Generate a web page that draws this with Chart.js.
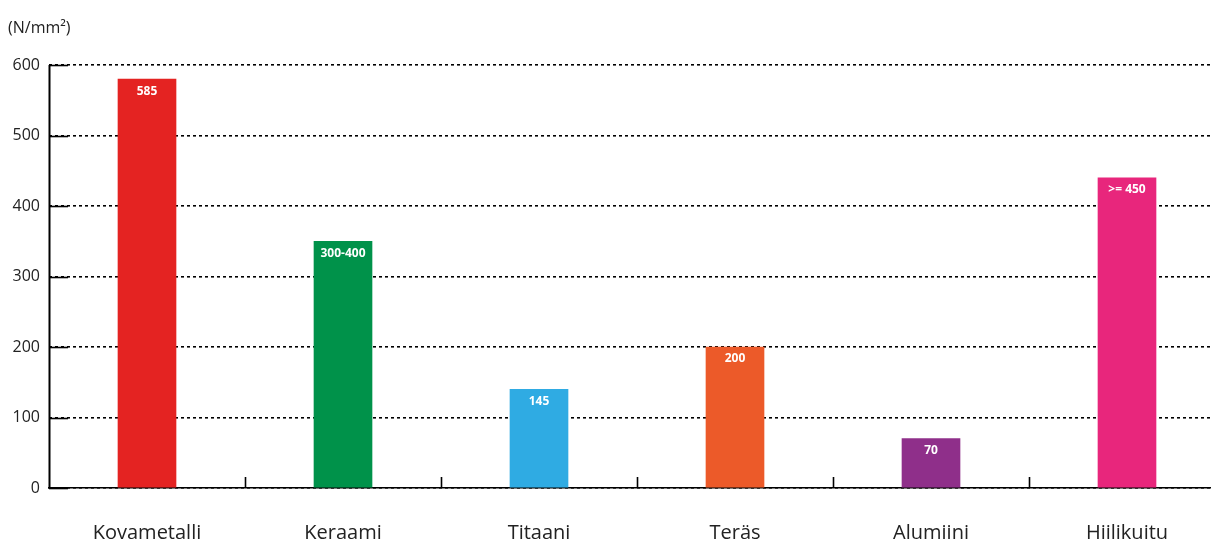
<!DOCTYPE html>
<html>
<head>
<meta charset="utf-8">
<script src="https://cdn.jsdelivr.net/npm/chart.js@4/dist/chart.umd.min.js"></script>
<style>
  html, body { margin: 0; padding: 0; background: #fff; overflow: hidden; }
  #wrap { width: 1225px; height: 542px; }
</style>
</head>
<body>
<div id="wrap"><canvas id="myChart" width="1225" height="542"></canvas></div>
<script>
// data
const materials = ["Kovametalli", "Keraami", "Titaani", "Teräs", "Alumiini", "Hiilikuitu"];
const strength = [580, 350, 140, 200, 70, 440];
const valueLabels = ["585", "300-400", "145", "200", "70", ">= 450"];
const barColours = ["#E42322", "#00924A", "#2FABE3", "#EC5A29", "#8F2F8A", "#E8267C"];
const yTicks = [0, 100, 200, 300, 400, 500, 600];
const unitLabel = "(N/mm\u00B2)";

// solid vertical axis line, drawn on its own
const yAxisLine = {
  id: "yAxisLine",
  afterDraw(chart) {
    const ctx = chart.ctx;
    const y = chart.scales.y;
    const ax = Math.round(y.right) + 0.5;
    ctx.save();
    ctx.setLineDash([]);
    ctx.strokeStyle = "#000";
    ctx.lineWidth = 2;
    ctx.beginPath();
    ctx.moveTo(ax, y.top);
    ctx.lineTo(ax, y.bottom + 1);
    ctx.stroke();
    ctx.restore();
  }
};

// unit label, value labels, inner solid ticks and category dividers
const extras = {
  id: "extras",
  afterDraw(chart) {
    const ctx = chart.ctx;
    const area = chart.chartArea;
    const x = chart.scales.x, y = chart.scales.y;
    ctx.save();
    ctx.setLineDash([]);

    ctx.fillStyle = "#222";
    ctx.font = "16px 'Open Sans'";
    ctx.textAlign = "left";
    ctx.textBaseline = "middle";
    ctx.fillText(unitLabel, 8, 28);

    ctx.strokeStyle = "#000";
    ctx.lineWidth = 1.6;
    yTicks.forEach(v => {
      const py = Math.round(y.getPixelForValue(v)) + 0.5;
      ctx.beginPath();
      ctx.moveTo(area.left, py);
      ctx.lineTo(area.left + 19, py);
      ctx.stroke();
    });

    for (let i = 1; i < materials.length; i++) {
      const px = Math.round((x.getPixelForValue(i - 1) + x.getPixelForValue(i)) / 2) + 0.5;
      ctx.beginPath();
      ctx.moveTo(px, area.bottom);
      ctx.lineTo(px, area.bottom - 11);
      ctx.stroke();
    }

    const meta = chart.getDatasetMeta(0);
    ctx.fillStyle = "#fff";
    ctx.font = "bold 12px 'Open Sans'";
    ctx.textAlign = "center";
    ctx.textBaseline = "middle";
    meta.data.forEach((bar, i) => {
      ctx.fillText(valueLabels[i], bar.x, bar.y + 12);
    });

    ctx.restore();
  }
};

new Chart(document.getElementById("myChart").getContext("2d"), {
  type: "bar",
  data: {
    labels: materials,
    datasets: [{
      data: strength,
      backgroundColor: barColours,
      borderWidth: 0,
      barThickness: 58
    }]
  },
  options: {
    responsive: false,
    animation: false,
    layout: { padding: { top: 65, right: 0, left: 0, bottom: 0 } },
    plugins: {
      legend: { display: false },
      tooltip: { enabled: false }
    },
    scales: {
      x: {
        grid: { display: false },
        border: { display: true, color: "#000", width: 1.6 },
        ticks: {
          color: "#222",
          padding: 25,
          font: { family: "'Open Sans'", size: 20 }
        },
        afterFit: (scale) => { scale.height = 54; }
      },
      y: {
        min: 0,
        max: 600,
        afterBuildTicks: (scale) => { scale.ticks = yTicks.map(v => ({ value: v })); },
        grid: {
          color: "#000",
          lineWidth: 1.6,
          drawTicks: false
        },
        border: { display: false, dash: [3, 3] },
        ticks: {
          color: "#222",
          padding: 9,
          font: { family: "'Open Sans'", size: 16 }
        },
        afterFit: (scale) => { scale.width = 49; }
      }
    }
  },
  plugins: [extras, yAxisLine]
});
</script>
</body>
</html>
